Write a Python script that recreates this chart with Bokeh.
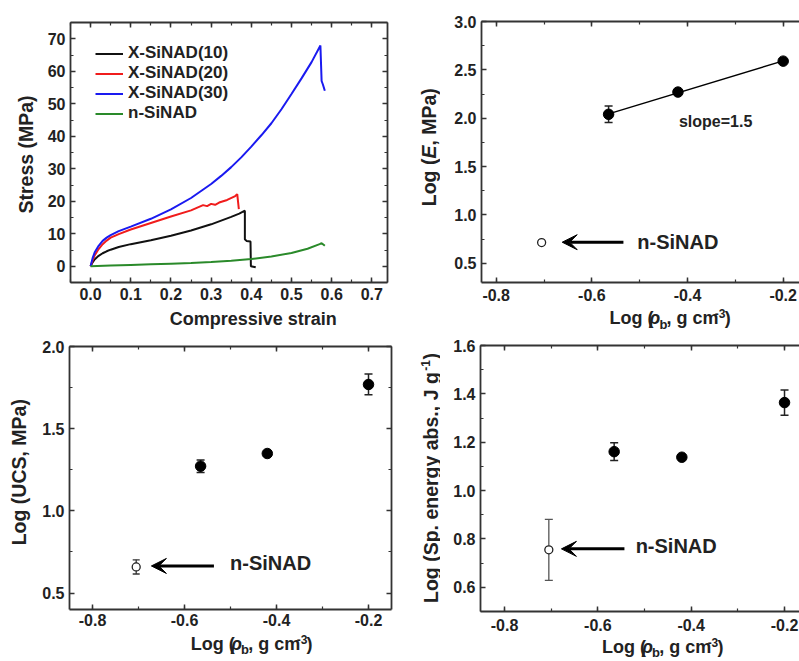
from math import pi
import numpy as np
from bokeh.plotting import figure
from bokeh.models import (Range1d, LinearAxis, SingleIntervalTicker, PrintfTickFormatter,
                          Label, Arrow, VeeHead, Whisker, TeeHead, ColumnDataSource,
                          Legend, LegendItem, CustomLabelingPolicy)
from bokeh.layouts import row, column
from bokeh.embed import file_html
from bokeh.resources import INLINE

# ---------------- data ----------------
# Panel (a): stress-strain curves
strain_10 = [0, 0.005, 0.01, 0.02, 0.03, 0.04, 0.05, 0.07, 0.1, 0.15, 0.2, 0.25, 0.3, 0.35, 0.37, 0.384,
             0.384, 0.388, 0.398, 0.399, 0.411]
stress_10 = [0, 1.2, 2.1, 3.2, 4.0, 4.6, 5.1, 5.9, 6.8, 8.0, 9.4, 11.0, 12.9, 15.2, 16.2, 17.1,
             8.3, 7.8, 7.6, 0.0, -0.3]
strain_20 = [0, 0.005, 0.01, 0.02, 0.03, 0.04, 0.05, 0.07, 0.1, 0.15, 0.2, 0.25, 0.28, 0.29, 0.3, 0.31,
             0.32, 0.34, 0.36, 0.365, 0.369]
stress_20 = [0, 1.8, 3.3, 5.3, 6.8, 7.9, 8.8, 9.9, 11.3, 13.3, 15.3, 17.2, 18.8, 18.5, 19.2, 18.9,
             19.6, 20.4, 21.6, 22.2, 17.6]
strain_30 = [0, 0.005, 0.01, 0.02, 0.03, 0.04, 0.05, 0.07, 0.1, 0.15, 0.2, 0.25, 0.3, 0.325, 0.35,
             0.375, 0.4, 0.425, 0.45, 0.475, 0.5, 0.525, 0.55, 0.572, 0.575, 0.578, 0.583]
stress_30 = [0, 2.5, 4.2, 6.3, 7.8, 8.8, 9.6, 10.8, 12.2, 14.6, 17.5, 21.0, 25.3, 27.8, 30.5,
             33.5, 36.8, 40.3, 44.0, 48.3, 53.0, 57.8, 62.8, 67.9, 57.0, 56.0, 54.0]
strain_n = [0, 0.05, 0.1, 0.15, 0.2, 0.25, 0.3, 0.35, 0.4, 0.45, 0.5, 0.54, 0.57, 0.575, 0.58, 0.583]
stress_n = [0, 0.2, 0.4, 0.6, 0.8, 1.0, 1.3, 1.7, 2.2, 3.0, 4.1, 5.4, 6.8, 7.1, 6.6, 6.3]
series_names = ["X-SiNAD(10)", "X-SiNAD(20)", "X-SiNAD(30)", "n-SiNAD"]
series_colors = ["#111111", "#f01c1c", "#1a1af0", "#2a8a2a"]

# Panels (b)-(d): log properties vs log bulk density
log_rho_x = [-0.565, -0.42, -0.20]
log_rho_n = [-0.705]
log_E_x = [2.04, 2.27, 2.59]
log_E_x_err = [0.085, 0.0, 0.0]
log_E_n = [0.713]
log_ucs_x = [1.272, 1.349, 1.769]
log_ucs_x_err = [0.038, 0.0, 0.063]
log_ucs_n = [0.659]
log_ucs_n_err = [0.043]
log_sea_x = [1.161, 1.138, 1.364]
log_sea_x_err = [0.037, 0.0, 0.052]
log_sea_n = [0.755]
log_sea_n_err = [0.126]
slope_text = "slope=1.5"
n_label = "n-SiNAD"

# ---------------- helpers ----------------
FONT = "Liberation Sans"
TXT = "#222222"
TICK_FS = "16px"
W = {' ': 278, '(': 333, ')': 333, ',': 278, '-': 333, '.': 278, '=': 584,
     'A': 722, 'C': 722, 'D': 722, 'E': 667, 'J': 556, 'L': 611, 'M': 833, 'N': 722, 'P': 667,
     'S': 667, 'U': 722, 'X': 667, 'a': 556, 'b': 611, 'c': 556, 'e': 556, 'g': 611, 'i': 278,
     'l': 278, 'm': 889, 'n': 611, 'o': 611, 'p': 611, 'r': 389, 's': 556, 't': 333, 'v': 556,
     'y': 556, '\u03c1': 640}
MID = 0.35  # middle of the text box above the baseline, in em

NO_LABELS = CustomLabelingPolicy(code="""
for (const i of Array.from(indices)) { indices.unset(i) }
return indices
""")


def tw(s, size):
    return sum(W.get(c, 556) for c in s) * size / 1000.0


def label_fig(w, h):
    f = figure(width=w, height=h, x_range=Range1d(0, w), y_range=Range1d(0, h),
               x_axis_type=None, y_axis_type=None, output_backend="svg",
               toolbar_location=None, min_border=0)
    f.outline_line_color = None
    f.background_fill_color = "white"
    f.border_fill_color = "white"
    return f


def rich(f, runs, cx, cy, vertical=False):
    """runs: (text, size, style, raise, gap_before). (cx, cy) = centre of the whole label,
    in the pixel coordinates of the label figure."""
    total = sum(tw(t, s) + g for t, s, _, _, g in runs)
    main = runs[0][1]
    pos = -total / 2.0
    for t, s, st, sh, g in runs:
        pos += g
        lift = sh + MID * s - MID * main
        if vertical:
            x, y, ang = cx - lift, cy + pos, pi / 2
        else:
            x, y, ang = cx + pos, cy + lift, 0
        f.add_layout(Label(x=x, y=y, text=t, angle=ang, text_font=FONT,
                           text_font_size=f"{s}px", text_font_style=st, text_align="left",
                           text_baseline="middle", text_color=TXT))
        pos += tw(t, s)


def style_axis(ax, interval, fmt, labels=True, standoff=5):
    ax.ticker = SingleIntervalTicker(interval=interval, num_minor_ticks=2)
    ax.formatter = PrintfTickFormatter(format=fmt)
    ax.major_tick_in = 5
    ax.major_tick_out = 0
    ax.minor_tick_in = 3
    ax.minor_tick_out = 0
    ax.axis_line_width = 1.8
    ax.axis_line_color = "#333333"
    ax.major_tick_line_width = 1.5
    ax.major_tick_line_color = "#333333"
    ax.minor_tick_line_width = 1.2
    ax.minor_tick_line_color = "#333333"
    ax.major_label_text_font = FONT
    ax.major_label_text_font_style = "bold"
    ax.major_label_text_font_size = TICK_FS
    ax.major_label_text_color = TXT
    ax.major_label_standoff = standoff
    if not labels:
        ax.major_label_policy = NO_LABELS
        ax.major_label_standoff = 0
        ax.major_label_text_font_size = "0px"
    ax.axis_label = None


def make_fig(xr, yr, w, h, bl, br, bt, bb, xint, yint, xfmt, yfmt, mirror_right, xstand):
    p = figure(width=w, height=h, x_range=Range1d(*xr), y_range=Range1d(*yr),
               output_backend="svg", toolbar_location=None,
               min_border_left=bl, min_border_right=br, min_border_top=bt, min_border_bottom=bb)
    p.outline_line_color = None
    p.xgrid.grid_line_color = None
    p.ygrid.grid_line_color = None
    p.background_fill_color = "white"
    p.border_fill_color = "white"
    style_axis(p.xaxis[0], xint, xfmt, True, xstand)
    style_axis(p.yaxis[0], yint, yfmt, True, 5)
    top = LinearAxis()
    style_axis(top, xint, xfmt, False)
    p.add_layout(top, "above")
    if mirror_right:
        right = LinearAxis()
        style_axis(right, yint, yfmt, False)
        p.add_layout(right, "right")
    return p


def errorbars(p, xs, ys, errs, color, width, head):
    keep = [i for i, e in enumerate(errs) if e > 0]
    src = ColumnDataSource(dict(x=[xs[i] for i in keep],
                                lo=[ys[i] - errs[i] for i in keep],
                                hi=[ys[i] + errs[i] for i in keep]))
    w = Whisker(source=src, base="x", lower="lo", upper="hi", dimension="height",
                line_color=color, line_width=width, level="underlay",
                upper_head=TeeHead(size=head, line_color=color, line_width=width),
                lower_head=TeeHead(size=head, line_color=color, line_width=width))
    p.add_layout(w)


def markers(p, xs, ys, xn, yn):
    p.scatter(xs, ys, size=10.5, marker="circle", fill_color="black", line_color="black")
    p.scatter(xn, yn, size=8, marker="circle", fill_color="white", line_color="#222222", line_width=1.3)


def arrow_note(p, x0, x1, y, tx, ty):
    p.add_layout(Arrow(end=VeeHead(size=15, fill_color="black", line_color="black", line_width=1),
                       x_start=x0, y_start=y, x_end=x1, y_end=y, line_width=3, line_color="black"))
    p.add_layout(Label(x=tx, y=ty, text=n_label, text_font=FONT, text_font_size="20px",
                       text_font_style="bold", text_baseline="middle", text_align="left",
                       text_color=TXT))


XS, YS = 18, 19.5
RHO = [("Log (", XS, "bold", 0, 0), ("\u03c1", XS, "bold italic", 0, 1), ("b", 13, "bold", -4, 0),
       (", g cm", XS, "bold", 0, 0), ("-3", 12, "bold", 6.5, 2.5), (")", XS, "bold", 0, 0.5)]

# ---------------- panel (a) ----------------
p1 = make_fig((-0.05, 0.739), (-5, 75), 356, 308, 26, 13, 22, 26, 0.1, 10, "%.1f", "%d", True, 5)
rs = []
for xs, ys, c in zip([strain_10, strain_20, strain_30, strain_n],
                     [stress_10, stress_20, stress_30, stress_n], series_colors):
    rs.append(p1.line(xs, ys, line_color=c, line_width=2))
leg = Legend(items=[LegendItem(label=n, renderers=[r]) for n, r in zip(series_names, rs)],
             location=(25, 159), glyph_width=28, glyph_height=19, label_height=19, spacing=0,
             padding=0, margin=0, border_line_color=None, background_fill_alpha=0,
             label_standoff=5, label_text_font=FONT, label_text_font_style="bold",
             label_text_font_size="17px", label_text_color=TXT)
p1.add_layout(leg)
xl1 = label_fig(356, 22)
rich(xl1, [("Compressive strain", XS, "bold", 0, 0)], 195, 11.5)
yl1 = label_fig(44, 330)
rich(yl1, [("Stress (MPa)", YS, "bold", 0, 0)], 25, 176, vertical=True)

# ---------------- panel (b) ----------------
p2 = make_fig((-0.8307, -0.1659), (0.3, 3.0), 359, 307, 41, 0, 21, 25, 0.2, 0.5, "%.1f", "%.1f", False, 6)
fit = np.polyfit(log_rho_x, log_E_x, 1)
fx = [min(log_rho_x), max(log_rho_x)]
p2.line(fx, list(np.polyval(fit, fx)), line_color="black", line_width=1.5)
errorbars(p2, log_rho_x, log_E_x, log_E_x_err, "#222222", 1.5, 8)
markers(p2, log_rho_x, log_E_x, log_rho_n, log_E_n)
p2.add_layout(Label(x=-0.418, y=1.966, text=slope_text, text_font=FONT, text_font_size="16px",
                    text_font_style="bold", text_baseline="middle", text_color=TXT))
arrow_note(p2, -0.534, -0.662, 0.717, -0.505, 0.723)
xl2 = label_fig(359, 23)
rich(xl2, RHO, 212.5, 12.2)
yl2 = label_fig(40, 330)
rich(yl2, [("Log (", YS, "bold", 0, 0), ("E", YS, "bold italic", 0, 0), (", MPa)", YS, "bold", 0, 0)],
     28.3, 183.3, vertical=True)

# ---------------- panel (c) ----------------
p3 = make_fig((-0.85, -0.15), (0.4, 2.0), 362, 302, 31, 9, 16, 23, 0.2, 0.5, "%.1f", "%.1f", True, 4)
errorbars(p3, log_rho_x, log_ucs_x, log_ucs_x_err, "#222222", 1.5, 8)
errorbars(p3, log_rho_n, log_ucs_n, log_ucs_n_err, "#333333", 1.3, 7)
markers(p3, log_rho_x, log_ucs_x, log_rho_n, log_ucs_n)
arrow_note(p3, -0.536, -0.672, 0.665, -0.501, 0.684)
xl3 = label_fig(362, 29)
rich(xl3, RHO, 204.5, 18)
yl3 = label_fig(38, 331)
rich(yl3, [("Log (UCS, MPa)", YS, "bold", 0, 0)], 18.3, 189.3, vertical=True)

# ---------------- panel (d) ----------------
p4 = make_fig((-0.8514, -0.1679), (0.5, 1.6), 359, 306, 40, 0, 15, 25, 0.2, 0.2, "%.1f", "%.1f", False, 7)
errorbars(p4, log_rho_x, log_sea_x, log_sea_x_err, "#222222", 1.5, 8)
errorbars(p4, log_rho_n, log_sea_n, log_sea_n_err, "#555555", 1.3, 8)
markers(p4, log_rho_x, log_sea_x, log_rho_n, log_sea_n)
arrow_note(p4, -0.543, -0.678, 0.759, -0.519, 0.769)
xl4 = label_fig(359, 25)
rich(xl4, RHO, 204.7, 14.5)
yl4 = label_fig(40, 331)
rich(yl4, [("Log (Sp. energy abs., J g", YS, "bold", 0, 0), ("-1", 12, "bold", 8, 1.5),
           (")", YS, "bold", 0, 0.5)], 30, 183.5, vertical=True)

top = row(row(yl1, column(p1, xl1)), row(yl2, column(p2, xl2)))
bottom = row(row(yl3, column(p3, xl3)), row(yl4, column(p4, xl4)))
layout = column(top, bottom)
open("out.html", "w").write(file_html(layout, INLINE))
